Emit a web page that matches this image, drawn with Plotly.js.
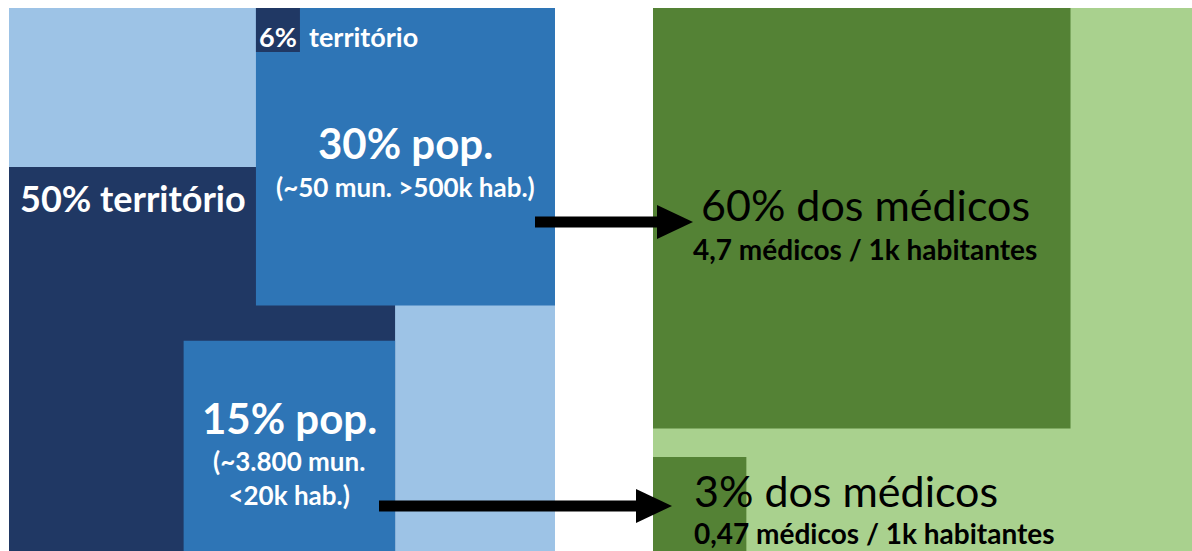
<!DOCTYPE html>
<html><head><meta charset="utf-8">
<script src="https://cdn.plot.ly/plotly-3.0.1.min.js"></script>
<style>html,body{margin:0;padding:0;background:#fff}#chart{width:1192px;height:551px}</style>
</head><body><div id="chart"></div>
<script>
// ---- Data (shares in %) ----
const territoryShare = [50, 6];
const territoryLabels = ['50%', '6%'];
const territoryWord = 'território';
const populationShare = [30, 15];
const populationLabels = ['30% pop.', '15% pop.'];
const populationNotes = ['(~50 mun. >500k hab.)', '(~3.800 mun.<br><20k hab.)'];
const doctorShare = [60, 3];
const doctorLabels = ['60% dos médicos', '3% dos médicos'];
const doctorRates = ['4,7 médicos / 1k habitantes', '0,47 médicos / 1k habitantes'];

// ---- Layout constants ----
const W = 1192, H = 551;
const LP = {x0: 9, y0: 8, w: 546, h: 543};    // left panel (territory / population)
const RP = {x0: 653, y0: 8, w: 539, h: 543};  // right panel (doctors)
const C = {lightBlue:'#9DC3E6', navy:'#203864', blue:'#2E75B6', darkGreen:'#548235', lightGreen:'#A9D18E'};
const FONT = 'Lato, "Open Sans", sans-serif';

// square side (fraction of panel) for a given share of panel area
const side = s => Math.sqrt(s / 100);
function rect(p, fx0, fy0, fx1, fy1, color) {
  return {type:'rect', xref:'x', yref:'y', layer:'below', line:{width:0}, fillcolor:color,
    x0: p.x0 + fx0 * p.w, x1: p.x0 + fx1 * p.w, y0: p.y0 + fy0 * p.h, y1: p.y0 + fy1 * p.h};
}
const shapes = [];
const ann = [];
function txt(x, y, text, size, color, bold, anchor) {
  ann.push({xref:'x', yref:'y', x, y, text: bold ? '<b>' + text + '</b>' : text, showarrow:false,
    xanchor: anchor || 'center', yanchor:'middle', font:{family:FONT, size, color}});
}

// Left panel
shapes.push(rect(LP, 0, 0, 1, 1, C.lightBlue));
const aT = side(territoryShare[0]);   // 50% territory, bottom-left
shapes.push(rect(LP, 0, 1 - aT, aT, 1, C.navy));
const aP = side(populationShare[0]);  // 30% pop, top-right
shapes.push(rect(LP, 1 - aP, 0, 1, aP, C.blue));
const aQ = side(populationShare[1]);  // 15% pop, bottom, aligned with territory edge
shapes.push(rect(LP, aT - aQ, 1 - aQ, aT, 1, C.blue));
// small label box for "6%" at the corner of the 30% block
const box = 44 / LP.w;
shapes.push(rect(LP, 1 - aP, 0, 1 - aP + box, box * LP.w / LP.h, C.navy));

// Right panel
shapes.push(rect(RP, 0, 0, 1, 1, C.lightGreen));
const aD = side(doctorShare[0]);
shapes.push(rect(RP, 0, 0, aD, aD, C.darkGreen));
const aE = side(doctorShare[1]);
shapes.push(rect(RP, 0, 1 - aE, aE, 1, C.darkGreen));

// Arrows
function arrow(xFrom, xTip, y) {
  const hl = 36, hh = 34, sw = 11;
  shapes.push({type:'rect', xref:'x', yref:'y', line:{width:0}, fillcolor:'#000',
    x0: xFrom, x1: xTip - hl + 1, y0: y - sw / 2, y1: y + sw / 2});
  shapes.push({type:'path', xref:'x', yref:'y', line:{width:0}, fillcolor:'#000',
    path: `M${xTip - hl},${y - hh / 2} L${xTip},${y} L${xTip - hl},${y + hh / 2} Z`});
}
arrow(535, 693, 222);
arrow(379, 672, 506);

// Texts - left panel
const px = f => LP.x0 + f * LP.w;
txt(px(1 - aP) + 22, 36, territoryLabels[1], 27, '#fff', true);
txt(px(1 - aP) + 51, 36, territoryWord, 27, '#fff', true, 'left');
txt(18, 198, territoryLabels[0] + ' ' + territoryWord, 36, '#fff', true, 'left');
txt(px(1 - aP / 2), 143, populationLabels[0], 42, '#fff', true);
txt(px(1 - aP / 2), 187, populationNotes[0], 26, '#fff', true);
txt(px(aT - aQ / 2), 418, populationLabels[1], 42, '#fff', true);
txt(px(aT - aQ / 2), 478, populationNotes[1], 26, '#fff', true);

// Texts - right panel
txt(865, 204, doctorLabels[0], 43, '#000', false);
txt(865, 249, doctorRates[0], 28, '#000', true);
txt(692, 490, doctorLabels[1], 43, '#000', false, 'left');
txt(692, 533, doctorRates[1], 28, '#000', true, 'left');

const layout = {
  width: W, height: H, margin:{l:0, r:0, t:0, b:0},
  paper_bgcolor:'#fff', plot_bgcolor:'#fff', showlegend:false,
  xaxis:{range:[0, W], visible:false, fixedrange:true},
  yaxis:{range:[H, 0], visible:false, fixedrange:true},
  shapes, annotations: ann
};
Plotly.newPlot('chart', [{x:[], y:[], type:'scatter', hoverinfo:'skip'}], layout, {staticPlot:true});
</script></body></html>
